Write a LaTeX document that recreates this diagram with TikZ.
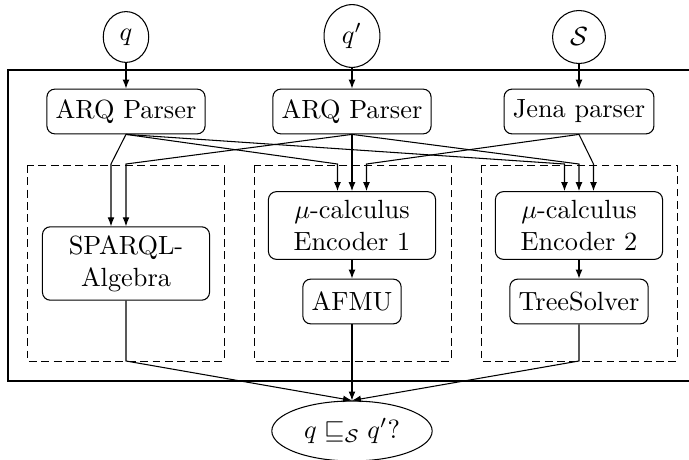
\documentclass[tikz,border=0pt]{standalone}
\usetikzlibrary{shapes.geometric,arrows.meta,calc}
\begin{document}
\begin{tikzpicture}[x=0.38pt,y=-0.38pt,
  box/.style={draw,rounded corners=3pt,minimum height=17pt,align=center},
  wbox/.style={box,minimum width=63.5pt},
  var/.style={draw,ellipse,inner sep=3.7pt},
  grp/.style={draw,line width=0.35pt,dash pattern=on 3pt off 1.7pt},
  arr/.style={-{Latex[length=3.4pt,width=2.6pt]}}]
\useasboundingbox (0,0) rectangle (689,460);
% outer frame (open to the right, beyond the page)
\draw[line width=0.4pt] (689,70) -- (8,70) -- (8,381) -- (689,381);
% groups
\draw[grp] (27,165) rectangle (224,361);
\draw[grp] (254,165) rectangle (451,361);
\draw[grp] (481,165) rectangle (677,361);
% inputs
\node[var] (q) at (126,37) {$q$};
\node[var] (qp) at (352,36) {$q'$};
\node[var] (s) at (579,37) {$\mathcal{S}$};
% parsers
\node[box] (p1) at (126,111.5) {ARQ Parser};
\node[box] (p2) at (352,111.5) {ARQ Parser};
\node[box] (p3) at (579,111.5) {Jena parser};
% processing
\node[wbox] (sp) at (126,263.5) {SPARQL-\\Algebra};
\node[wbox] (e1) at (352,225.5) {$\mu$-calculus\\Encoder 1};
\node[wbox] (e2) at (579,225.5) {$\mu$-calculus\\Encoder 2};
\node[box] (af) at (352,301.5) {AFMU};
\node[box] (ts) at (579,301.5) {TreeSolver};
\node[var,inner sep=3.33pt] (res) at (352,431) {$q \sqsubseteq_{\mathcal{S}} q'$?};
% input arrows
\draw[arr] (q.south) -- (p1.north);
\draw[arr] (qp.south) -- (p2.north);
\draw[arr] (s.south) -- (p3.north);
% bend points
\coordinate (a1) at (111,164);
\coordinate (a2) at (126,164);
\coordinate (b1) at (337.5,164);
\coordinate (b2) at (352,164);
\coordinate (b3) at (366.5,164);
\coordinate (c1) at (564.5,164);
\coordinate (c2) at (579,164);
\coordinate (c3) at (593.5,164);
\draw[arr] (p1.south) -- (a1) -- (a1 |- sp.north);
\draw[arr] (p2.south) -- (a2) -- (a2 |- sp.north);
\draw[arr] (p1.south) -- (b1) -- (b1 |- e1.north);
\draw[arr] (p2.south) -- (b2) -- (b2 |- e1.north);
\draw[arr] (p3.south) -- (b3) -- (b3 |- e1.north);
\draw[arr] (p1.south) -- (c1) -- (c1 |- e2.north);
\draw[arr] (p2.south) -- (c2) -- (c2 |- e2.north);
\draw[arr] (p3.south) -- (c3) -- (c3 |- e2.north);
% encoders to solvers
\draw[arr] (e1.south) -- (af.north);
\draw[arr] (e2.south) -- (ts.north);
% to result
\coordinate (d1) at (126,361);
\coordinate (d3) at (579,361);
\draw[arr] (sp.south) -- (d1) -- (res.north);
\draw[arr] (af.south) -- (res.north);
\draw[arr] (ts.south) -- (d3) -- (res.north);
\end{tikzpicture}
\end{document}
